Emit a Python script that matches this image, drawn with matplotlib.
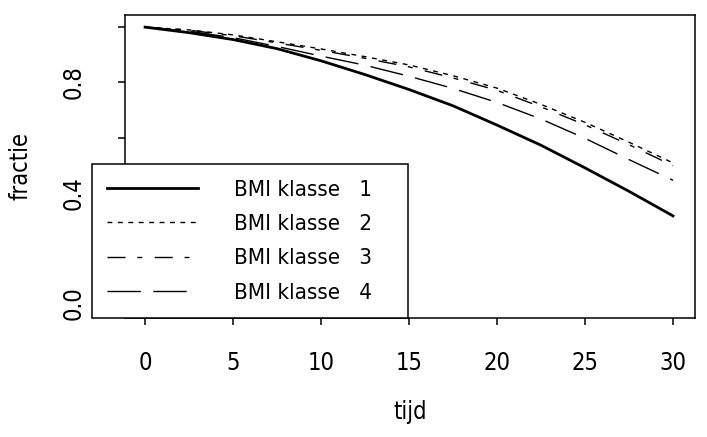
import numpy as np
import matplotlib
matplotlib.use("Agg")
import matplotlib.pyplot as plt

plt.rcParams['font.family'] = ['DejaVu Sans']
plt.rcParams['font.stretch'] = 'condensed'

# survival fractions, every 2.5 units of time
tijd = [0, 2.5, 5, 7.5, 10, 12.5, 15, 17.5, 20, 22.5, 25, 27.5, 30]
klasse1 = [1.0, 0.980, 0.955, 0.922, 0.878, 0.828, 0.774, 0.715, 0.645, 0.572, 0.490, 0.405, 0.316]
klasse2 = [1.0, 0.990, 0.972, 0.947, 0.921, 0.893, 0.863, 0.824, 0.779, 0.720, 0.655, 0.583, 0.508]
klasse3 = [1.0, 0.989, 0.969, 0.943, 0.916, 0.887, 0.856, 0.816, 0.771, 0.711, 0.646, 0.574, 0.498]
klasse4 = [1.0, 0.985, 0.962, 0.930, 0.895, 0.862, 0.822, 0.778, 0.727, 0.667, 0.597, 0.520, 0.445]

labels = ["BMI klasse   1", "BMI klasse   2", "BMI klasse   3", "BMI klasse   4"]

fig = plt.figure(figsize=(7.07, 4.37), dpi=100)
ax = fig.add_axes([125/707, 1 - 318/437, 570/707, 303/437])

ax.plot(tijd, klasse1, color="black", lw=2.0, label=labels[0])
ax.plot(tijd, klasse2, color="black", lw=1.0, dashes=(3.5, 4), label=labels[1])
ax.plot(tijd, klasse3, color="black", lw=1.0, dashes=(13, 8.5, 3.5, 9), label=labels[2])
ax.plot(tijd, klasse4, color="black", lw=1.0, dashes=(24, 9), label=labels[3])

ax.set_xlim(-1.14, 31.25)
ax.set_ylim(-0.054, 1.044)
ax.set_xticks([0, 5, 10, 15, 20, 25, 30])
ax.set_yticks([0, 0.2, 0.4, 0.6, 0.8, 1.0])
ax.set_yticklabels(["0.0", "", "0.4", "", "0.8", ""], rotation=90, va="center")

for s in ax.spines.values():
    s.set_linewidth(1.1)
ax.tick_params(axis="x", direction="out", length=5, width=1.1, pad=19, labelsize=17)
ax.tick_params(axis="y", direction="out", length=5, width=1.1, pad=23, labelsize=17)

ax.set_xlabel("tijd", fontsize=17, labelpad=18)
ax.set_ylabel("fractie", fontsize=17, labelpad=21)

leg = ax.legend(loc="lower left", bbox_to_anchor=(92/707, 1 - 318/437, 316/707, 0.3),
                bbox_transform=fig.transFigure, mode="expand", borderaxespad=0,
                fancybox=False, framealpha=1, edgecolor="black", fontsize=16,
                handlelength=4.1, handletextpad=1.6, borderpad=0.68, labelspacing=0.65)
leg.get_frame().set_linewidth(1.1)
leg.set_zorder(5)

fig.savefig("out.png", dpi=100)
